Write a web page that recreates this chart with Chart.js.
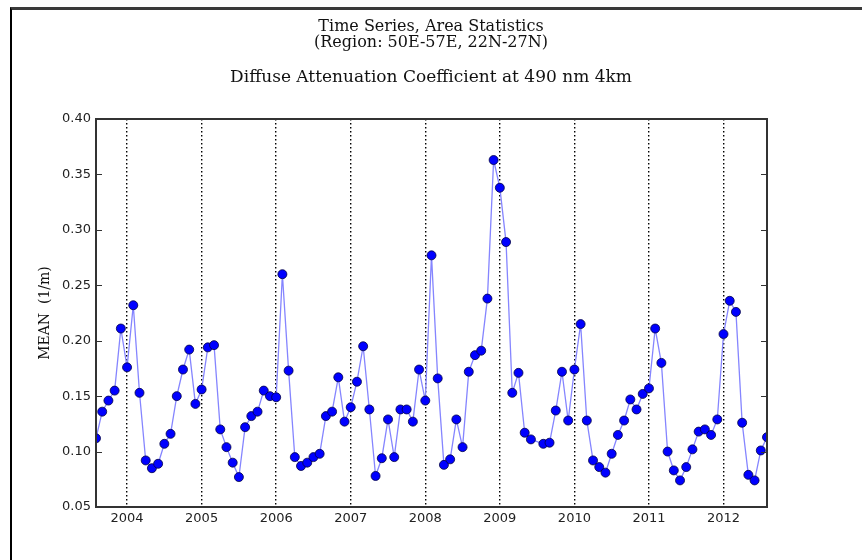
<!DOCTYPE html>
<html>
<head>
<meta charset="utf-8">
<script src="https://cdn.jsdelivr.net/npm/chart.js@4/dist/chart.umd.min.js"></script>
<style>
    body { margin: 0; background: #fff; overflow: hidden; }
    #wrap { position: relative; width: 862px; height: 560px; overflow: hidden; }
    #frame { position: absolute; left: 10px; top: 7px; width: 900px; height: 600px;
             border-top: 3px solid #3a3a3a; border-left: 2px solid #000; }
    #chart { position: absolute; left: 0; top: 0; }
</style>
</head>
<body>
<div id="wrap">
    <div id="frame"></div>
    <canvas id="chart" width="862" height="560"></canvas>
</div>
<script>
// monthly series, first value is August 2003
const startYear = 2003;
const startMonth = 8;
const meanValues = [
    0.112, 0.136, 0.146, 0.155, 0.211, 0.176, 0.232, 0.153, 0.092, 0.085, 0.089, 0.107,
    0.116, 0.150, 0.174, 0.192, 0.143, 0.156, 0.194, 0.196, 0.120, 0.104, 0.090, 0.077,
    0.122, 0.132, 0.136, 0.155, 0.150, 0.149, 0.260, 0.173, 0.095, 0.087, 0.090, 0.095,
    0.098, 0.132, 0.136, 0.167, 0.127, 0.140, 0.163, 0.195, 0.138, 0.078, 0.094, 0.129,
    0.095, 0.138, 0.138, 0.127, 0.174, 0.146, 0.277, 0.166, 0.088, 0.093, 0.129, 0.104,
    0.172, 0.187, 0.191, 0.238, 0.363, 0.338, 0.289, 0.153, 0.171, 0.117, 0.111, null,
    0.107, 0.108, 0.137, 0.172, 0.128, 0.174, 0.215, 0.128, 0.092, 0.086, 0.081, 0.098,
    0.115, 0.128, 0.147, 0.138, 0.152, 0.157, 0.211, 0.180, 0.100, 0.083, 0.074, 0.086,
    0.102, 0.118, 0.120, 0.115, 0.129, 0.206, 0.236, 0.226, 0.126, 0.079, 0.074, 0.101,
    0.113
];
const yearTicks = [2004, 2005, 2006, 2007, 2008, 2009, 2010, 2011, 2012];
const meanTicks = [0.05, 0.10, 0.15, 0.20, 0.25, 0.30, 0.35, 0.40];

const points = meanValues.map((v, i) => ({
    x: startYear + (startMonth - 1 + i) / 12,
    y: v
}));

// box round the plot and small inward ticks on the y axis
const axesBox = {
    id: 'axesBox',
    afterDraw(chart) {
        const { ctx, chartArea: a } = chart;
        const y = chart.scales.y;
        ctx.save();
        ctx.strokeStyle = '#333';
        ctx.lineWidth = 2;
        ctx.strokeRect(a.left, a.top, a.right - a.left, a.bottom - a.top);
        ctx.lineWidth = 1;
        meanTicks.forEach(t => {
            const py = Math.round(y.getPixelForValue(t)) + 0.5;
            ctx.beginPath();
            ctx.moveTo(a.left, py);
            ctx.lineTo(a.left + 6, py);
            ctx.moveTo(a.right - 6, py);
            ctx.lineTo(a.right, py);
            ctx.stroke();
        });
        ctx.restore();
    }
};

new Chart(document.getElementById('chart'), {
    type: 'line',
    data: {
        datasets: [{
            data: points,
            borderColor: '#8585ff',
            borderWidth: 1.3,
            backgroundColor: '#0000ff',
            pointBackgroundColor: '#0000ff',
            pointBorderColor: '#000044',
            pointBorderWidth: 0.8,
            pointRadius: 4.5,
            spanGaps: true,
            tension: 0
        }]
    },
    options: {
        responsive: false,
        devicePixelRatio: 1,
        animation: false,
        layout: { padding: 0 },
        plugins: {
            legend: { display: false },
            tooltip: { enabled: false },
            title: {
                display: true,
                text: ['Time Series, Area Statistics', '(Region: 50E-57E, 22N-27N)'],
                color: '#111',
                font: { family: 'DejaVu Serif', size: 16, weight: 'normal', lineHeight: 1.0 },
                padding: { top: 19, bottom: 18 }
            },
            subtitle: {
                display: true,
                text: 'Diffuse Attenuation Coefficient at 490 nm 4km',
                color: '#111',
                font: { family: 'DejaVu Serif', size: 17, lineHeight: 1.0 },
                padding: { top: 0, bottom: 33 }
            }
        },
        scales: {
            x: {
                type: 'linear',
                min: points[0].x,
                max: points[points.length - 1].x,
                afterBuildTicks: scale => {
                    scale.ticks = yearTicks.map(v => ({ value: v }));
                },
                afterFit: scale => { scale.height = 53; },
                grid: { color: '#000', lineWidth: 1.4, drawTicks: false },
                border: { display: false, dash: [1.5, 2.5] },
                ticks: {
                    padding: 4,
                    color: '#222',
                    font: { family: 'DejaVu Sans', size: 13 },
                    callback: v => String(v)
                }
            },
            y: {
                min: 0.05,
                max: 0.40,
                afterBuildTicks: scale => {
                    scale.ticks = meanTicks.map(v => ({ value: v }));
                },
                afterFit: scale => { scale.width = 96; },
                grid: { display: false, drawTicks: false },
                border: { display: false },
                title: {
                    display: true,
                    text: 'MEAN  (1/m)',
                    color: '#111',
                    font: { family: 'DejaVu Serif', size: 14 },
                    padding: { top: 37, bottom: 0 }
                },
                ticks: {
                    padding: 5,
                    color: '#222',
                    font: { family: 'DejaVu Sans', size: 13 },
                    callback: v => v.toFixed(2)
                }
            },
            // empty right axis, only keeps the margin so the titles stay centred
            yRight: {
                position: 'right',
                display: true,
                afterFit: scale => { scale.width = 95; },
                grid: { display: false, drawTicks: false },
                border: { display: false },
                ticks: { display: false }
            }
        }
    },
    plugins: [axesBox]
});
</script>
</body>
</html>
